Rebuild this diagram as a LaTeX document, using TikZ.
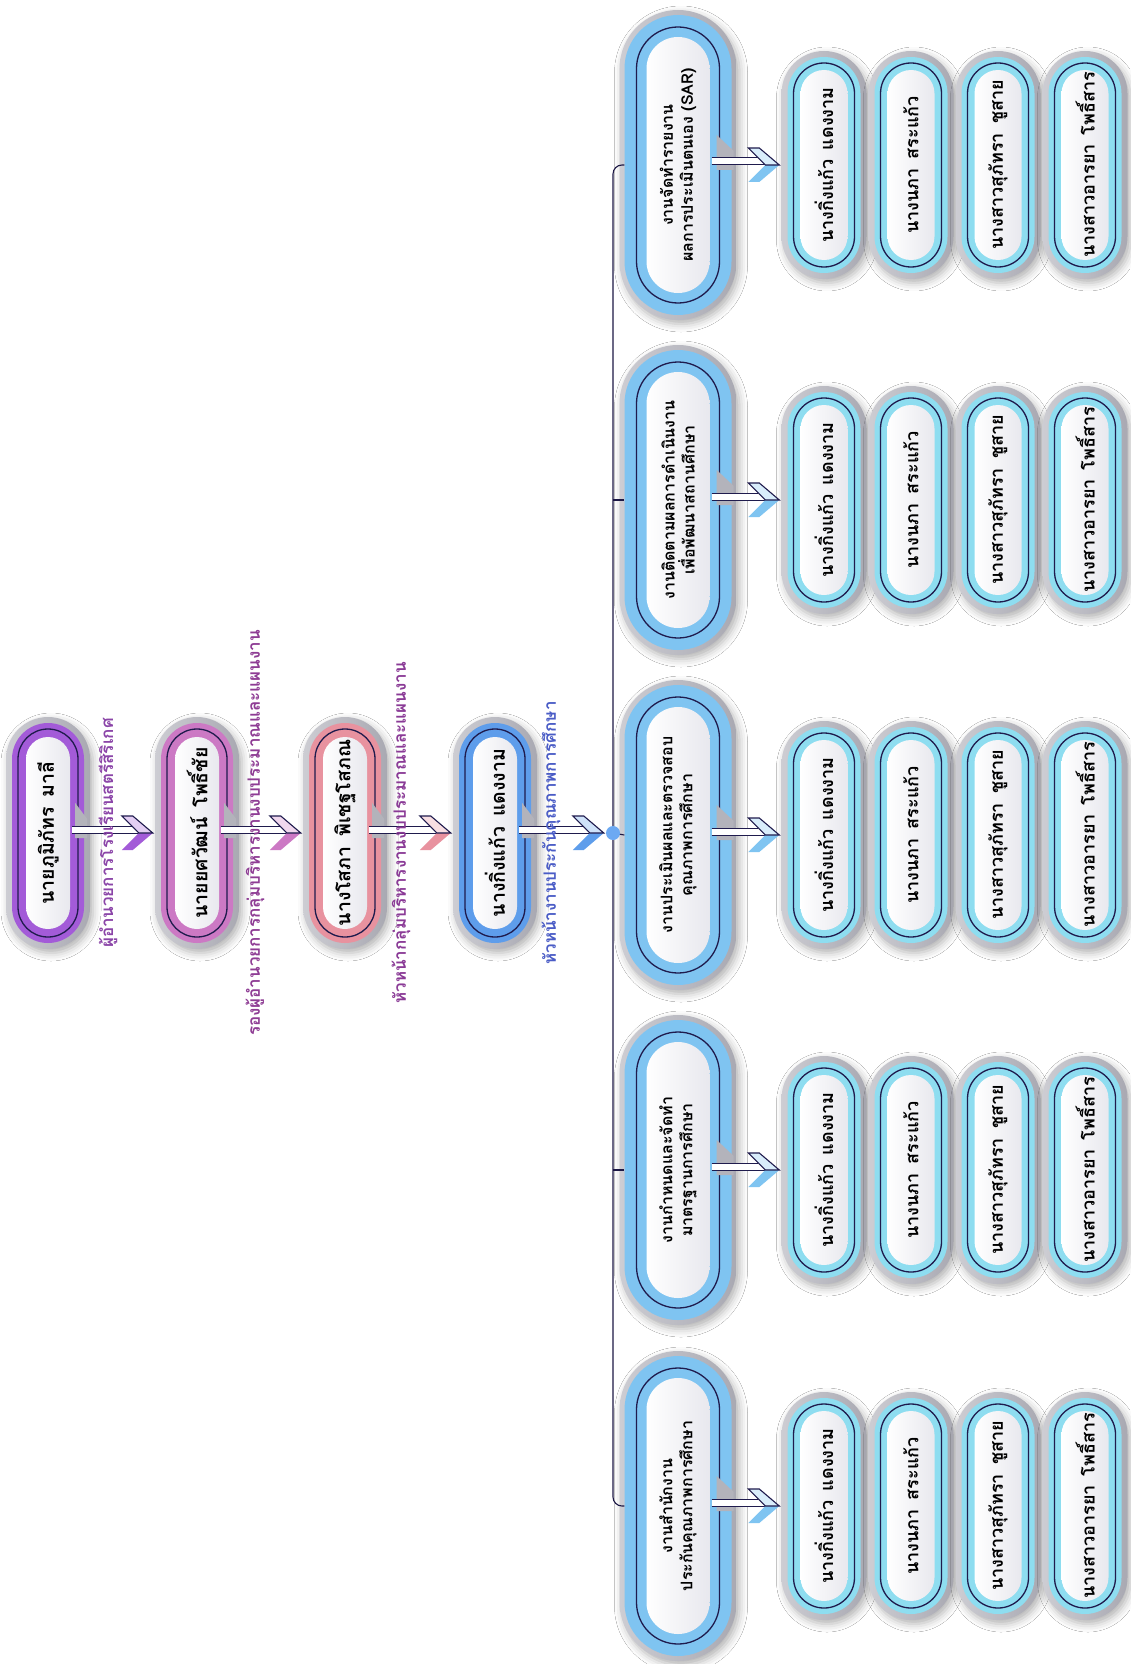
\documentclass[tikz,border=0pt]{standalone}
\usepackage{fontspec}
\newfontfamily\thaifont[Script=Thai]{Loma}
\usetikzlibrary{calc,shadows.blur}

\definecolor{ink}{HTML}{1F1B4D}
\definecolor{haloL}{HTML}{CDCDD3}
\definecolor{haloR}{HTML}{A9A9B2}
\definecolor{notchgray}{HTML}{B3B3BB}
\definecolor{coreR}{HTML}{E8E8EE}
\definecolor{cPurple}{HTML}{A35BD8}
\definecolor{cOrchid}{HTML}{CC79C4}
\definecolor{cRose}{HTML}{E8929F}
\definecolor{cBlue}{HTML}{5E9DEB}
\definecolor{cSky}{HTML}{7FC4F1}
\definecolor{cAqua}{HTML}{8EDDF0}
\definecolor{hubblue}{HTML}{6CA9F2}
\definecolor{labA}{HTML}{8B45A8}
\definecolor{labB}{HTML}{8E3C94}
\definecolor{labC}{HTML}{8A3A96}
\definecolor{labD}{HTML}{4A5CC6}

\tikzset{
  x=1pt, y=-1pt,
  halo/.style={left color=haloL, right color=haloR,
    blur shadow={shadow xshift=3pt, shadow yshift=-4pt, shadow blur radius=8pt, shadow opacity=30}},
  core/.style={left color=white, right color=coreR},
  pilltext/.style={font=\thaifont\bfseries\pfs, align=center, text=black, inner sep=0pt},
  lab/.style={rotate=90, font=\thaifont\bfseries\fontsize{17}{19}\selectfont, inner sep=0pt},
  bus/.style={draw=ink!90!black, line width=1.1pt},
}

% pill dimensions: outer width, outer height, ring inset, outline inset, core inset
\newcommand\setpill[5]{\def\pw{#1}\def\ph{#2}\def\pa{#3}\def\pb{#4}\def\pc{#5}}

% \pill{name}{x}{y}{ring colour}{text}
\newcommand\pill[5]{%
  \pgfmathsetmacro\hw{\pw/2}\pgfmathsetmacro\hh{\ph/2}%
  \pgfmathsetmacro\ra{\hw-\pa}\pgfmathsetmacro\rb{\hw-\pb}\pgfmathsetmacro\rc{\hw-\pc}%
  \begin{scope}[shift={(#2,#3)}]
    \path[halo, rounded corners=\hw pt] (-\hw,-\hh) rectangle (\hw,\hh);
    \fill[#4, rounded corners=\ra pt] ({-\hw+\pa},{-\hh+\pa}) rectangle ({\hw-\pa},{\hh-\pa});
    \draw[ink, line width=1.3pt, rounded corners=\rb pt] ({-\hw+\pb},{-\hh+\pb}) rectangle ({\hw-\pb},{\hh-\pb});
    \path[core, rounded corners=\rc pt] ({-\hw+\pc},{-\hh+\pc}) rectangle ({\hw-\pc},{\hh-\pc});
    \node[minimum width=\pw pt, minimum height=\ph pt, inner sep=0pt] (#1) at (0,0) {};
    \node[rotate=90, pilltext] (#1t) at (0,0) {#5};
  \end{scope}}

% \flow{from}{to}{colour}{outline inset}{core inset}
\newcommand\flow[5]{%
  \coordinate (tip) at ($(#2.west)+(-2,0)$);
  \coordinate (src) at ($(#1.east)+(-#5+2,0)$);
  \fill[notchgray] ($(#1.east)+(-#4-3,-30)$) -- ($(#1.east)+(-3,-14)$)
     -- ($(#1.east)+(-3,5)$) -- ($(#1.east)+(-#4-3,5)$) -- cycle;
  \fill[white] ($(src)+(0,-7)$) rectangle ($(tip)+(-16,0)$);
  \draw[ink, line width=1pt] ($(src)+(0,-7)$) -- ($(tip)+(-21,-7)$);
  \draw[ink, line width=1pt] (src) -- ($(tip)+(-14,0)$);
  \fill[#3] ($(tip)+(-14,0)$) -- (tip) -- ($(tip)+(-20,17)$) -- ($(tip)+(-31,17)$) -- cycle;
  \filldraw[fill=#3!30!white, draw=ink, line width=1.1pt, line join=miter]
     ($(tip)+(-31,-17)$) -- ($(tip)+(-20,-17)$) -- (tip) -- ($(tip)+(-14,0)$) -- cycle;
}

\begin{document}
\begin{tikzpicture}
\useasboundingbox (0,0) rectangle (1130,1664);
\fill[white] (0,0) rectangle (1130,1664);

% ---- chain of heads ----
\def\pfs{\fontsize{19.5}{22}\selectfont}
\setpill{84}{232}{6}{12}{20}
\pill{c1}{48}{833}{cPurple}{นายภูมิภัทร\enspace มาลี}
\pill{c2}{197}{833}{cOrchid}{นายยศวัฒน์\enspace โพธิ์ชัย}
\pill{c3}{345}{833}{cRose}{นางโสภา\enspace พิเชฐโสภณ}
\pill{c4}{495}{833}{cBlue}{นางกิ่งแก้ว\enspace แดงงาม}

\coordinate (busc) at (613,833);

% ---- work groups ----
\def\pfs{\fontsize{16}{20}\selectfont}
\setpill{117}{310}{5}{17}{27}
\pill{g1}{678}{165}{cSky}{งานจัดทำรายงาน\\ผลการประเมินตนเอง (SAR)}
\pill{g2}{678}{500}{cSky}{งานติดตามผลการดำเนินงาน\\เพื่อพัฒนาสถานศึกษา}
\pill{g3}{678}{835}{cSky}{งานประเมินผลและตรวจสอบ\\คุณภาพการศึกษา}
\pill{g4}{678}{1170}{cSky}{งานกำหนดและจัดทำ\\มาตรฐานการศึกษา}
\pill{g5}{678}{1506}{cSky}{งานสำนักงาน\\ประกันคุณภาพการศึกษา}

% ---- bus joining the groups ----
\draw[bus, rounded corners=9pt] ($(g1.west)+(5,0)$) -| (busc) |- ($(g5.west)+(5,0)$);
\draw[bus] (busc) -- ($(g3.west)+(5,0)$);
\draw[bus] (busc |- g2.west) -- ($(g2.west)+(5,0)$);
\draw[bus] (busc |- g4.west) -- ($(g4.west)+(5,0)$);
\node[circle, fill=hubblue, minimum size=14pt, inner sep=0pt] (hub) at (busc) {};

% ---- members of each group ----
\def\pfs{\fontsize{18}{21}\selectfont}
\setpill{85}{228}{6}{12}{19}
\foreach \g/\y in {1/165,2/500,3/835,4/1170,5/1506}{
  \pill{s\g a}{824}{\y}{cAqua}{นางกิ่งแก้ว\enspace แดงงาม}
  \pill{s\g b}{911}{\y}{cAqua}{นางนภา\enspace สระแก้ว}
  \pill{s\g c}{998}{\y}{cAqua}{นางสาวสุภัทรา\enspace ชูสาย}
  \pill{s\g d}{1085}{\y}{cAqua}{นางสาวอารยา\enspace โพธิ์สาร}
}

% ---- arrows ----
\flow{c1}{c2}{cPurple}{12}{20}
\flow{c2}{c3}{cOrchid}{12}{20}
\flow{c3}{c4}{cRose}{12}{20}
\flow{c4}{hub}{cBlue}{12}{20}
\foreach \g in {1,...,5}{\flow{g\g}{s\g a}{cSky}{17}{27}}

% ---- position titles ----
\node[lab, text=labA] (l1) at (108,833) {ผู้อำนวยการโรงเรียนสตรีสิริเกศ};
\node[lab, text=labB] (l2) at (255,833) {รองผู้อำนวยการกลุ่มบริหารงานงบประมาณและแผนงาน};
\node[lab, text=labC] (l3) at (401,833) {หัวหน้ากลุ่มบริหารงานงบประมาณและแผนงาน};
\node[lab, text=labD] (l4) at (551,833) {หัวหน้างานประกันคุณภาพการศึกษา};
\end{tikzpicture}
\end{document}
